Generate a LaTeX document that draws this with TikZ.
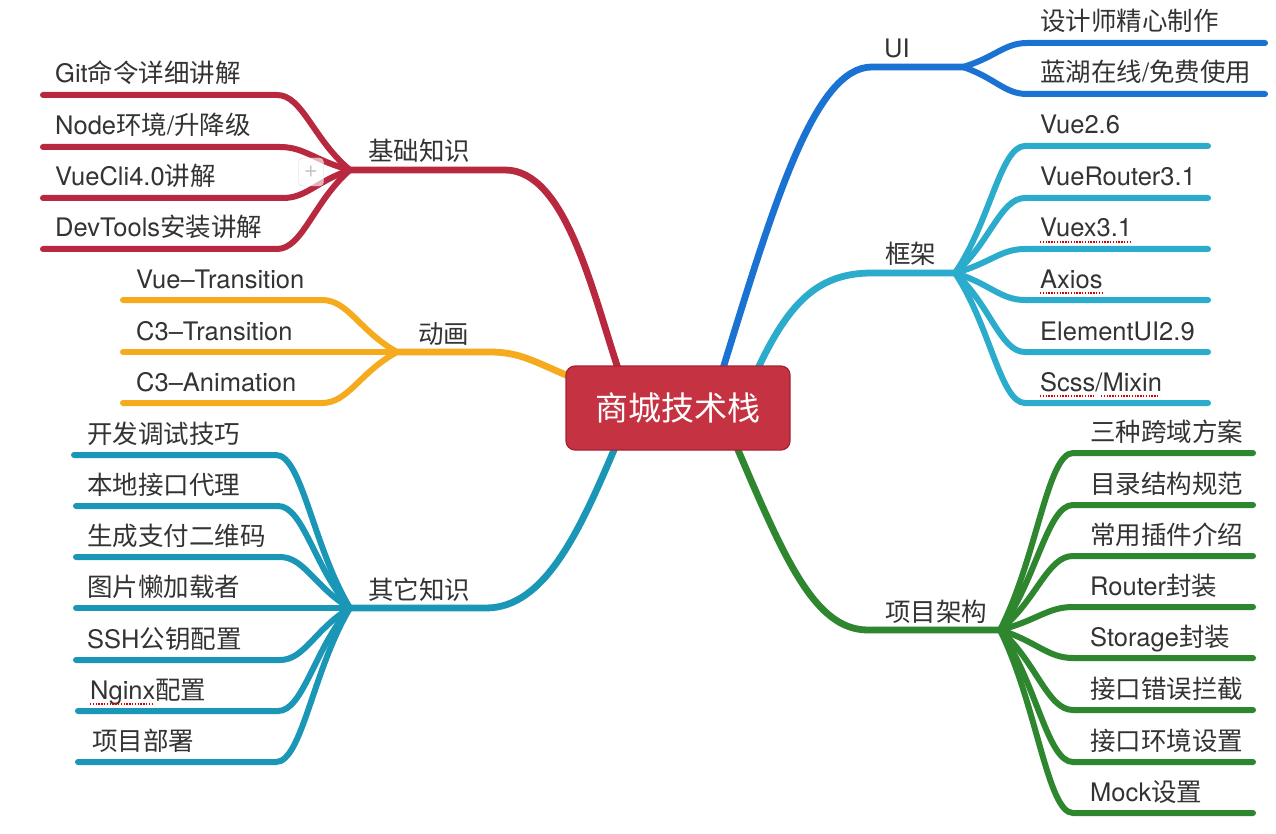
\documentclass[tikz,border=0pt]{standalone}
\usepackage{fontspec}
\setmainfont{TeX Gyre Heros}
\newfontfamily\cjk{Noto Sans CJK SC}
\usetikzlibrary{calc,backgrounds}
\definecolor{cRed}{RGB}{184,40,62}
\definecolor{cBox}{RGB}{197,50,66}
\definecolor{cBoxD}{RGB}{168,34,50}
\definecolor{cOrange}{RGB}{246,170,30}
\definecolor{cTealD}{RGB}{26,150,182}
\definecolor{cTealL}{RGB}{44,172,204}
\definecolor{cBlue}{RGB}{26,115,210}
\definecolor{cGreen}{RGB}{46,135,46}
\definecolor{txt}{RGB}{51,51,51}
\newcommand\zh[1]{{\cjk #1}}
% #1 name, #2 colour, #3 junction, #4 y of line, #5 x of bend end, #6 x of free end, #7 x of text, #8 text
\newcommand\leaf[8]{%
  \coordinate (#1e) at (#5,#4);
  \coordinate (#1s) at (#6,#4);
  \coordinate (#1m) at ($(#3)!0.5!(#1e)$);
  \coordinate (#1n) at ($(#3)!0.4!(#1e)$);
  \node[leaftext] (#1) at (#7,#4-12) {#8};
  \draw[twig=#2] (#3) .. controls (#1m|-#1n) and ($(#1e)!0.35!(#3|-#1e)$) .. (#1e) -- (#1s);
}
\begin{document}
\begin{tikzpicture}[x=1pt,y=-1pt,
  branch/.style={line width=6.8pt, line cap=round, draw=#1},
  twig/.style={line width=6pt, line cap=round, draw=#1},
  leaftext/.style={anchor=base west, inner sep=0pt, text=txt, font=\fontsize{25.5}{30}\selectfont},
  spell/.style={draw=red!85!black, line width=1.4pt, dash pattern=on 1.4pt off 1.4pt}]
\useasboundingbox (0,0) rectangle (1276,834);

% centre
\node[draw=cBoxD, line width=1.2pt, fill=cBox, rounded corners=9pt, minimum width=224pt, minimum height=84pt,
      text=white, font=\cjk\fontsize{33}{36}\selectfont] (c) at (678,408) {商城技术栈};

% junctions
\coordinate (j1) at (350,170);
\coordinate (j2) at (397,352);
\coordinate (j3) at (350,608);
\coordinate (j4) at (963,67);
\coordinate (j5) at (955,273);
\coordinate (j6) at (1000,630);

% attachment points on the centre box
\coordinate (a1) at ([xshift=-60pt,yshift=-3pt]c.north);
\coordinate (a2) at ([xshift=3pt,yshift=32pt]c.west);
\coordinate (a3) at ([xshift=-63pt,yshift=3pt]c.south);
\coordinate (a4) at ([xshift=45pt,yshift=-3pt]c.north);
\coordinate (a5) at ([xshift=80pt,yshift=-3pt]c.north);
\coordinate (a6) at ([xshift=59pt,yshift=3pt]c.south);

\begin{scope}[on background layer]
\fill[white] (0,0) rectangle (1276,834);
\draw[branch=cRed] (a1) .. controls (592,290) and (565,170) .. (505,170) -- (j1);
\draw[branch=cOrange] (a2) .. controls (535,362) and (520,352) .. (490,352) -- (j2);
\draw[branch=cTealD] (a3) .. controls (580,530) and (545,608) .. (486,608) -- (j3);
\draw[branch=cBlue] (a4) .. controls (775,200) and (815,67) .. (872,67) -- (j4);
\draw[branch=cTealL] (a5) .. controls (790,300) and (820,273) .. (872,273) -- (j5);
\draw[branch=cGreen] (a6) .. controls (785,560) and (815,630) .. (868,630) -- (j6);
\end{scope}

% branch labels
\node[leaftext] (l1) at (368,161) {\zh{基础知识}};
\node[leaftext] (l2) at (418,343) {\zh{动画}};
\node[leaftext] (l3) at (368,599) {\zh{其它知识}};
\node[leaftext] (l4) at (884,58) {UI};
\node[leaftext] (l5) at (885,264) {\zh{框架}};
\node[leaftext] (l6) at (885,621) {\zh{项目架构}};

% red
\leaf{r1}{cRed}{j1}{95}{277}{43}{55}{Git\zh{命令详细讲解}}
\leaf{r2}{cRed}{j1}{147}{280}{43}{55}{Node\zh{环境}/\zh{升降级}}
\leaf{r3}{cRed}{j1}{198}{283}{43}{55}{VueCli4.0\zh{讲解}}
\leaf{r4}{cRed}{j1}{249}{277}{43}{55}{DevTools\zh{安装讲解}}

% orange
\leaf{o1}{cOrange}{j2}{300}{322}{123}{136}{Vue–Transition}
\leaf{o2}{cOrange}{j2}{352}{322}{123}{136}{C3–Transition}
\leaf{o3}{cOrange}{j2}{403}{322}{123}{136}{C3–Animation}

% dark teal
\leaf{q1}{cTealD}{j3}{455}{276}{74}{87}{\zh{开发调试技巧}}
\leaf{q2}{cTealD}{j3}{506}{278}{76}{87}{\zh{本地接口代理}}
\leaf{q3}{cTealD}{j3}{557}{280}{76}{87}{\zh{生成支付二维码}}
\leaf{q4}{cTealD}{j3}{608}{280}{76}{87}{\zh{图片懒加载者}}
\leaf{q5}{cTealD}{j3}{660}{280}{76}{87}{SSH\zh{公钥配置}}
\leaf{q6}{cTealD}{j3}{711}{278}{78}{90}{Nginx\zh{配置}}
\leaf{q7}{cTealD}{j3}{762}{276}{78}{92}{\zh{项目部署}}

% blue
\leaf{u1}{cBlue}{j4}{43}{1027}{1265}{1040}{\zh{设计师精心制作}}
\leaf{u2}{cBlue}{j4}{94}{1027}{1265}{1040}{\zh{蓝湖在线}/\zh{免费使用}}

% light teal
\leaf{k1}{cTealL}{j5}{146}{1025}{1208}{1040}{Vue2.6}
\leaf{k2}{cTealL}{j5}{198}{1025}{1208}{1040}{VueRouter3.1}
\leaf{k3}{cTealL}{j5}{249}{1025}{1208}{1040}{Vuex3.1}
\leaf{k4}{cTealL}{j5}{300}{1025}{1208}{1040}{Axios}
\leaf{k5}{cTealL}{j5}{352}{1025}{1208}{1040}{ElementUI2.9}
\leaf{k6}{cTealL}{j5}{403}{1025}{1208}{1040}{Scss/Mixin}

% green
\leaf{g1}{cGreen}{j6}{453}{1073}{1253}{1090}{\zh{三种跨域方案}}
\leaf{g2}{cGreen}{j6}{505}{1073}{1253}{1090}{\zh{目录结构规范}}
\leaf{g3}{cGreen}{j6}{556}{1073}{1253}{1090}{\zh{常用插件介绍}}
\leaf{g4}{cGreen}{j6}{607}{1073}{1253}{1090}{Router\zh{封装}}
\leaf{g5}{cGreen}{j6}{658}{1073}{1253}{1090}{Storage\zh{封装}}
\leaf{g6}{cGreen}{j6}{710}{1073}{1253}{1090}{\zh{接口错误拦截}}
\leaf{g7}{cGreen}{j6}{762}{1073}{1253}{1090}{\zh{接口环境设置}}
\leaf{g8}{cGreen}{j6}{813}{1073}{1253}{1090}{Mock\zh{设置}}

% spell-check underlines
\draw[spell] ([yshift=-5pt]k3.base west) -- ([yshift=-5pt]k3.base east);
\draw[spell] ([yshift=-5pt]k4.base west) -- ([yshift=-5pt]k4.base east);
\draw[spell] ([yshift=-5pt]k6.base west) -- ++(54,0);
\draw[spell] ([yshift=-5pt,xshift=61pt]k6.base west) -- ++(58,0);
\draw[spell] ([yshift=-5pt]q6.base west) -- ++(64,0);

% collapse button
\node[draw=gray!35, fill=white, fill opacity=0.65, text opacity=1, rounded corners=4pt,
      minimum width=25pt, minimum height=28pt, inner sep=0pt, text=gray!45,
      font=\fontsize{24}{24}\selectfont] (plus) at (311,172) {+};
\end{tikzpicture}
\end{document}
